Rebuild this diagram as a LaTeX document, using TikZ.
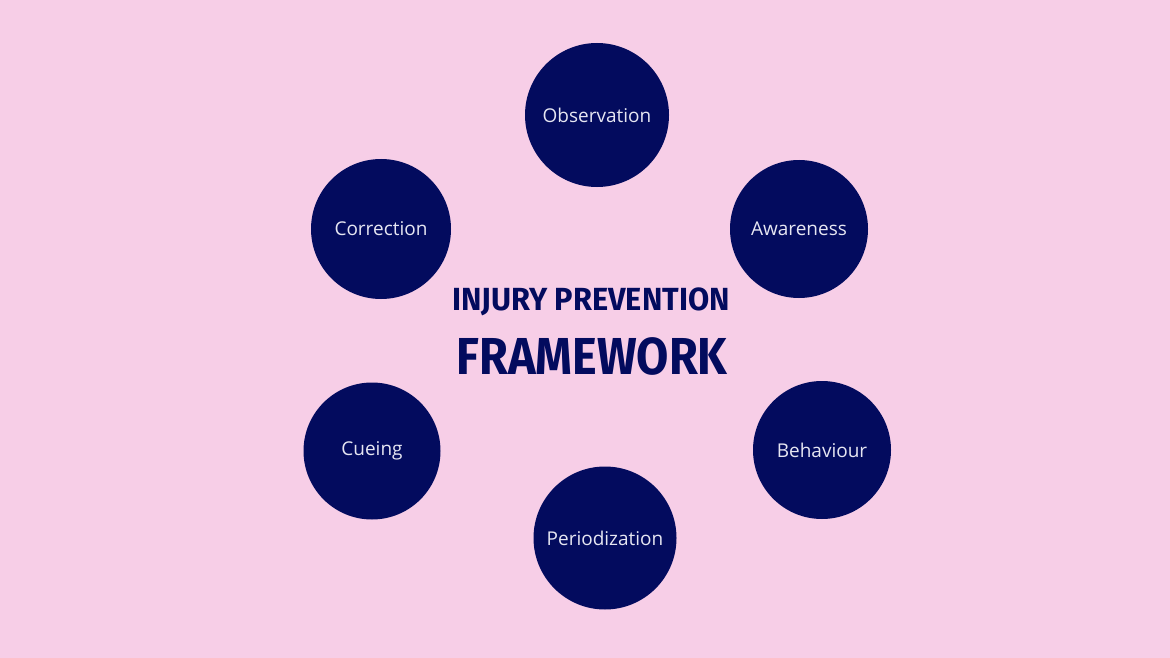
\documentclass[tikz,border=0pt]{standalone}
\usepackage{fontspec}
\setmainfont{Open Sans}
\newfontfamily\titlefont{Fira Sans}
\definecolor{fundo}{HTML}{F7CEE7}
\definecolor{marinho}{HTML}{030B5E}
\definecolor{letra}{HTML}{E6E6F2}
\begin{document}
\begin{tikzpicture}[x=1pt, y=-1pt,
    bola/.style={circle, fill=marinho, inner sep=0pt, text=letra, font=\fontsize{19}{21}\selectfont},
    titulo/.style={text=marinho, inner sep=0pt, font=\titlefont\bfseries}]
    % fundo rosa
    \fill[fundo] (0,0) rectangle (1170,658);
    \useasboundingbox (0,0) rectangle (1170,658);
    % seis círculos azuis
    \node[bola, minimum size=144pt] (obs) at (597,115) {Observation};
    \node[bola, minimum size=138pt] (awa) at (799,229) {Awareness};
    \node[bola, minimum size=138pt] (beh) at (822,450) {Behaviour};
    \node[bola, minimum size=143pt] (per) at (605,538) {Periodization};
    \node[bola, minimum size=137pt] (cue) at (372,451) {Cueing};
    \node[bola, minimum size=140pt] (cor) at (381,229) {Correction};
    % título no meio
    \node[titulo, xscale=0.96, font=\titlefont\bfseries\fontsize{32}{34}\selectfont] (tit1) at (591,302) {INJURY PREVENTION};
    \node[titulo, xscale=0.9, font=\titlefont\bfseries\fontsize{52}{54}\selectfont] (tit2) at (592,356) {FRAMEWORK};
  \end{tikzpicture}
\end{document}
